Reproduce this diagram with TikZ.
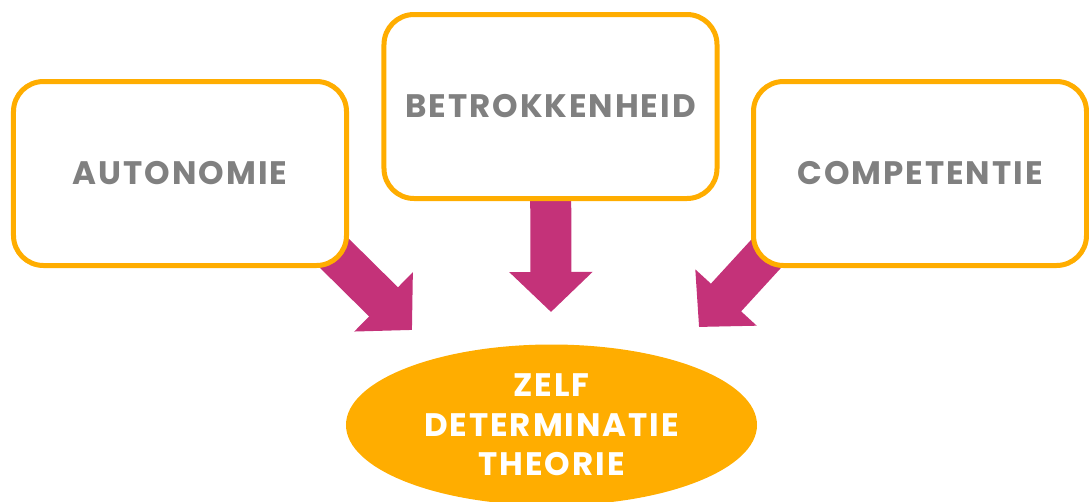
\documentclass[tikz,border=0pt]{standalone}
\usepackage{fontspec}
\setmainfont{Poppins}[LetterSpace=6]
\usepackage{tikz}
\usetikzlibrary{arrows.meta}
\usetikzlibrary{shapes.geometric}
\usetikzlibrary{backgrounds}
\definecolor{oranje}{HTML}{FFAD00}
\definecolor{roze}{HTML}{C43279}
\definecolor{grijs}{HTML}{808080}

\begin{document}
\begin{tikzpicture}[x=0.2mm,y=-0.2mm]
\useasboundingbox (0,0) rectangle (1089,501);
\begin{scope}[every node/.style={draw=oranje, line width=1mm, fill=white,
              rounded corners=6mm, minimum width=66.6mm, minimum height=36.8mm,
              text=grijs, font=\bfseries\fontsize{18.5}{22}\selectfont}]
    \node (Aut) at (180,173.5) {AUTONOMIE};
    \node (Bet) at (550.5,106.5) {BETROKKENHEID};
    \node (Com) at (920,173.5) {COMPETENTIE};
\end{scope}

\node[ellipse, fill=oranje, minimum width=82.2mm, minimum height=30.8mm,
      text=white, align=center, font=\bfseries\fontsize{18.5}{22.5}\selectfont]
      (ZDT) at (551.5,425) {ZELF\\DETERMINATIE\\THEORIE};

\coordinate (AutTip) at (412,330);
\coordinate (BetTip) at (551,312);
\coordinate (ComTip) at (699,327);

\begin{pgfonlayer}{background}
\begin{scope}[>={Triangle[length=8mm 0, width=16.2mm 0]},
              every edge/.style={draw=roze, line width=8.2mm}]
    \path [->] ([shift={(-25,-25)}]Aut.south east) edge (AutTip);
    \path [->] (Bet) edge (BetTip);
    \path [->] ([shift={(25,-25)}]Com.south west) edge (ComTip);
\end{scope}
\end{pgfonlayer}
\end{tikzpicture}
\end{document}
